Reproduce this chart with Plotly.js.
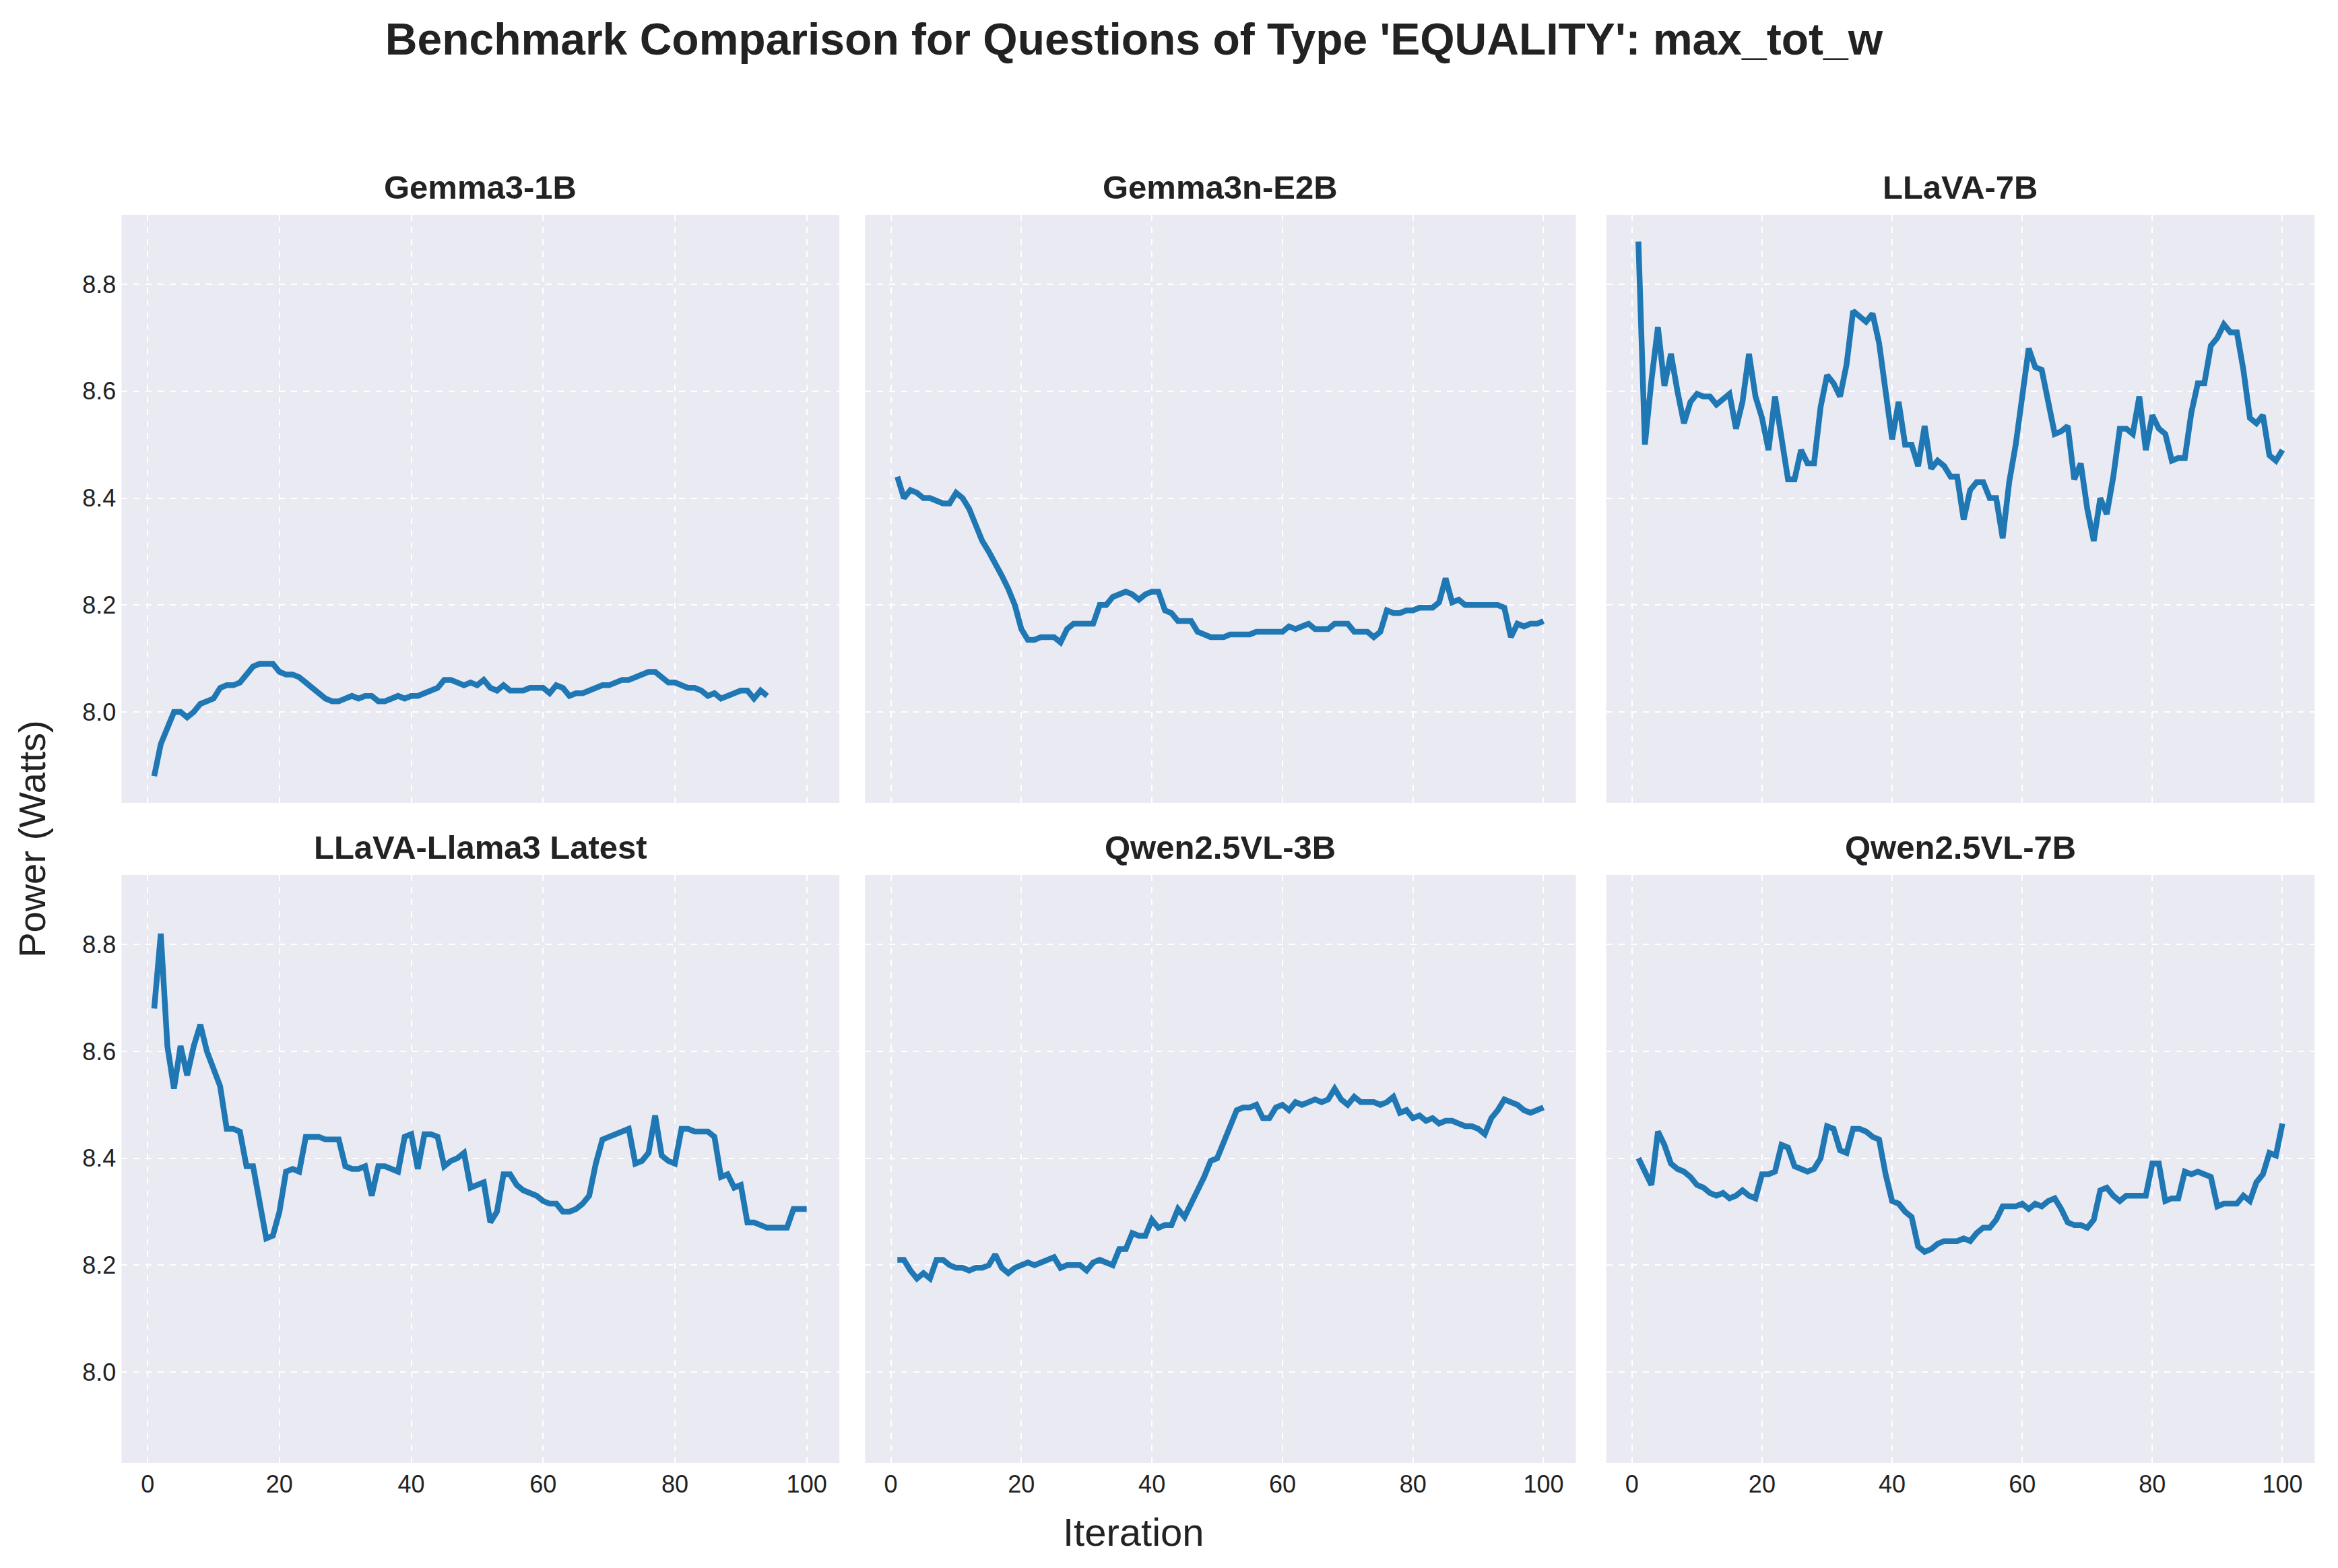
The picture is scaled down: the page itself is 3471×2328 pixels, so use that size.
<!DOCTYPE html>
<html>
<head>
<meta charset="utf-8">
<script src="https://cdn.plot.ly/plotly-3.0.1.min.js"></script>
<style>body { margin: 0; background: #fff; }</style>
</head>
<body>
<div id="chart" style="width:3471px;height:2328px"></div>
<script>
const models = ["Gemma3-1B", "Gemma3n-E2B", "LLaVA-7B", "LLaVA-Llama3 Latest", "Qwen2.5VL-3B", "Qwen2.5VL-7B"]

const gemma3_1b = [7.88, 7.94, 7.97, 8.00, 8.00, 7.99, 8.00, 8.015, 8.02, 8.025, 8.045, 8.05, 8.05, 8.055, 8.07, 8.085, 8.09, 8.09, 8.09, 8.075, 8.07, 8.07, 8.065, 8.055, 8.045, 8.035, 8.025, 8.02, 8.02, 8.025, 8.03, 8.025, 8.03, 8.03, 8.02, 8.02, 8.025, 8.03, 8.025, 8.03, 8.03, 8.035, 8.04, 8.045, 8.06, 8.06, 8.055, 8.05, 8.055, 8.05, 8.06, 8.045, 8.04, 8.05, 8.04, 8.04, 8.04, 8.045, 8.045, 8.045, 8.035, 8.05, 8.045, 8.03, 8.035, 8.035, 8.04, 8.045, 8.05, 8.05, 8.055, 8.06, 8.06, 8.065, 8.07, 8.075, 8.075, 8.065, 8.055, 8.055, 8.05, 8.045, 8.045, 8.04, 8.03, 8.035, 8.025, 8.03, 8.035, 8.04, 8.04, 8.025, 8.04, 8.03]

const gemma3n_e2b = [8.44, 8.40, 8.415, 8.41, 8.40, 8.40, 8.395, 8.39, 8.39, 8.41, 8.40, 8.38, 8.35, 8.32, 8.30, 8.28, 8.255, 8.23, 8.20, 8.155, 8.135, 8.135, 8.14, 8.14, 8.14, 8.13, 8.155, 8.165, 8.165, 8.165, 8.165, 8.2, 8.2, 8.215, 8.22, 8.225, 8.22, 8.21, 8.22, 8.225, 8.225, 8.19, 8.185, 8.17, 8.17, 8.17, 8.15, 8.145, 8.14, 8.14, 8.14, 8.145, 8.145, 8.145, 8.145, 8.15, 8.15, 8.15, 8.15, 8.15, 8.16, 8.155, 8.16, 8.165, 8.155, 8.155, 8.155, 8.165, 8.165, 8.165, 8.15, 8.15, 8.15, 8.14, 8.15, 8.19, 8.185, 8.185, 8.19, 8.19, 8.195, 8.195, 8.195, 8.205, 8.25, 8.205, 8.21, 8.2, 8.2, 8.2, 8.2, 8.2, 8.2, 8.195, 8.14, 8.165, 8.16, 8.165, 8.165, 8.17]

const llava_7b = [8.88, 8.50, 8.62, 8.72, 8.61, 8.67, 8.60, 8.54, 8.58, 8.595, 8.59, 8.59, 8.575, 8.585, 8.595, 8.53, 8.58, 8.67, 8.59, 8.55, 8.49, 8.59, 8.52, 8.435, 8.435, 8.49, 8.465, 8.465, 8.57, 8.63, 8.615, 8.59, 8.65, 8.75, 8.74, 8.73, 8.745, 8.69, 8.60, 8.51, 8.58, 8.50, 8.50, 8.46, 8.535, 8.455, 8.47, 8.46, 8.44, 8.44, 8.36, 8.415, 8.43, 8.43, 8.40, 8.40, 8.325, 8.43, 8.50, 8.59, 8.68, 8.645, 8.64, 8.58, 8.52, 8.525, 8.535, 8.435, 8.465, 8.38, 8.32, 8.40, 8.37, 8.44, 8.53, 8.53, 8.52, 8.59, 8.49, 8.555, 8.53, 8.52, 8.47, 8.475, 8.475, 8.56, 8.615, 8.615, 8.685, 8.70, 8.725, 8.71, 8.71, 8.64, 8.55, 8.54, 8.555, 8.48, 8.47, 8.49]

const llava_llama3 = [8.68, 8.82, 8.61, 8.53, 8.61, 8.555, 8.61, 8.65, 8.60, 8.57, 8.535, 8.455, 8.455, 8.45, 8.385, 8.385, 8.32, 8.25, 8.255, 8.30, 8.375, 8.38, 8.375, 8.44, 8.44, 8.44, 8.435, 8.435, 8.435, 8.385, 8.38, 8.38, 8.385, 8.33, 8.385, 8.385, 8.38, 8.375, 8.44, 8.445, 8.38, 8.445, 8.445, 8.44, 8.385, 8.395, 8.40, 8.41, 8.345, 8.35, 8.355, 8.28, 8.30, 8.37, 8.37, 8.35, 8.34, 8.335, 8.33, 8.32, 8.315, 8.315, 8.30, 8.30, 8.305, 8.315, 8.33, 8.39, 8.435, 8.44, 8.445, 8.45, 8.455, 8.39, 8.395, 8.41, 8.48, 8.405, 8.395, 8.39, 8.455, 8.455, 8.45, 8.45, 8.45, 8.44, 8.365, 8.37, 8.345, 8.35, 8.28, 8.28, 8.275, 8.27, 8.27, 8.27, 8.27, 8.305, 8.305, 8.305]

const qwen_3b = [8.21, 8.21, 8.19, 8.175, 8.185, 8.175, 8.21, 8.21, 8.2, 8.195, 8.195, 8.19, 8.195, 8.195, 8.2, 8.22, 8.195, 8.185, 8.195, 8.2, 8.205, 8.2, 8.205, 8.21, 8.215, 8.195, 8.2, 8.2, 8.2, 8.19, 8.205, 8.21, 8.205, 8.2, 8.23, 8.23, 8.26, 8.255, 8.255, 8.285, 8.27, 8.275, 8.275, 8.305, 8.29, 8.315, 8.335, 8.365, 8.395, 8.40, 8.43, 8.46, 8.49, 8.495, 8.495, 8.50, 8.475, 8.475, 8.495, 8.50, 8.49, 8.505, 8.50, 8.505, 8.51, 8.505, 8.51, 8.53, 8.51, 8.50, 8.515, 8.505, 8.505, 8.505, 8.50, 8.505, 8.515, 8.485, 8.49, 8.475, 8.48, 8.47, 8.475, 8.465, 8.47, 8.47, 8.465, 8.46, 8.46, 8.455, 8.445, 8.475, 8.49, 8.51, 8.505, 8.5, 8.49, 8.485, 8.49, 8.495]

const qwen_7b = [8.40, 8.375, 8.35, 8.45, 8.425, 8.39, 8.38, 8.375, 8.365, 8.35, 8.345, 8.335, 8.33, 8.335, 8.325, 8.33, 8.34, 8.33, 8.325, 8.37, 8.37, 8.375, 8.425, 8.42, 8.385, 8.38, 8.375, 8.38, 8.40, 8.46, 8.455, 8.415, 8.41, 8.455, 8.455, 8.45, 8.44, 8.435, 8.37, 8.32, 8.315, 8.30, 8.29, 8.235, 8.225, 8.23, 8.24, 8.245, 8.245, 8.245, 8.25, 8.245, 8.26, 8.27, 8.27, 8.285, 8.31, 8.31, 8.31, 8.315, 8.305, 8.315, 8.31, 8.32, 8.325, 8.305, 8.28, 8.275, 8.275, 8.27, 8.285, 8.34, 8.345, 8.33, 8.32, 8.33, 8.33, 8.33, 8.33, 8.39, 8.39, 8.32, 8.325, 8.325, 8.375, 8.37, 8.375, 8.37, 8.365, 8.31, 8.315, 8.315, 8.315, 8.33, 8.32, 8.355, 8.37, 8.41, 8.405, 8.465]

const series = [gemma3_1b, gemma3n_e2b, llava_7b, llava_llama3, qwen_3b, qwen_7b]

const xdom = [[0.052, 0.359], [0.370, 0.674], [0.687, 0.990]]
const ydom = [[0.488, 0.863], [0.067, 0.442]]
const font_family = "Liberation Sans, Arial, sans-serif"

let data = []
let layout = {
    width: 3471,
    height: 2328,
    paper_bgcolor: "#ffffff",
    plot_bgcolor: "#eaeaf2",
    showlegend: false,
    font: { family: font_family, color: "#222222" },
    margin: { l: 0, r: 0, t: 0, b: 0 },
    title: {
        text: "<b>Benchmark Comparison for Questions of Type 'EQUALITY': max_tot_w</b>",
        font: { size: 66, color: "#222222" },
        x: 0.485, xanchor: "center", y: 0.975, yanchor: "middle"
    },
    annotations: [],
}

for (let i = 0; i < series.length; i++) {
    const row = Math.floor(i / 3)
    const col = i % 3
    const n = i + 1
    const ys = series[i]
    const xs = ys.map((v, k) => k + 1)
    data.push({
        x: xs, y: ys, mode: "lines", type: "scatter",
        xaxis: "x" + (n === 1 ? "" : n), yaxis: "y" + (n === 1 ? "" : n),
        line: { color: "#1f77b4", width: 8.5 },
        hoverinfo: "skip"
    })
    const grid = { showgrid: true, gridcolor: "#ffffff", griddash: "dash", gridwidth: 2, zeroline: false, showline: false, ticks: "outside", ticklen: 0, tickfont: { size: 36, color: "#222222" } }
    layout["xaxis" + (n === 1 ? "" : n)] = Object.assign({}, grid, {
        domain: xdom[col], anchor: "y" + (n === 1 ? "" : n),
        range: [-3.95, 104.95], tickvals: [0, 20, 40, 60, 80, 100],
        showticklabels: row === 1
    })
    layout["yaxis" + (n === 1 ? "" : n)] = Object.assign({}, grid, {
        domain: ydom[row], anchor: "x" + (n === 1 ? "" : n),
        range: [7.83, 8.93], tickvals: [8.0, 8.2, 8.4, 8.6, 8.8], tickformat: ".1f",
        showticklabels: col === 0
    })
    layout.annotations.push({
        text: "<b>" + models[i] + "</b>", showarrow: false,
        xref: "paper", yref: "paper",
        x: (xdom[col][0] + xdom[col][1]) / 2, y: ydom[row][1] + 0.005,
        xanchor: "center", yanchor: "bottom",
        font: { size: 49, color: "#222222" }
    })
}

layout.annotations.push({
    text: "Iteration", showarrow: false, xref: "paper", yref: "paper",
    x: 0.485, y: 0.008, xanchor: "center", yanchor: "bottom",
    font: { size: 58, color: "#222222" }
})
layout.annotations.push({
    text: "Power (Watts)", showarrow: false, xref: "paper", yref: "paper",
    x: 0.004, y: 0.465, xanchor: "left", yanchor: "middle", textangle: -90,
    font: { size: 56, color: "#222222" }
})

Plotly.newPlot("chart", data, layout, { displayModeBar: false, staticPlot: true })
</script>
</body>
</html>
